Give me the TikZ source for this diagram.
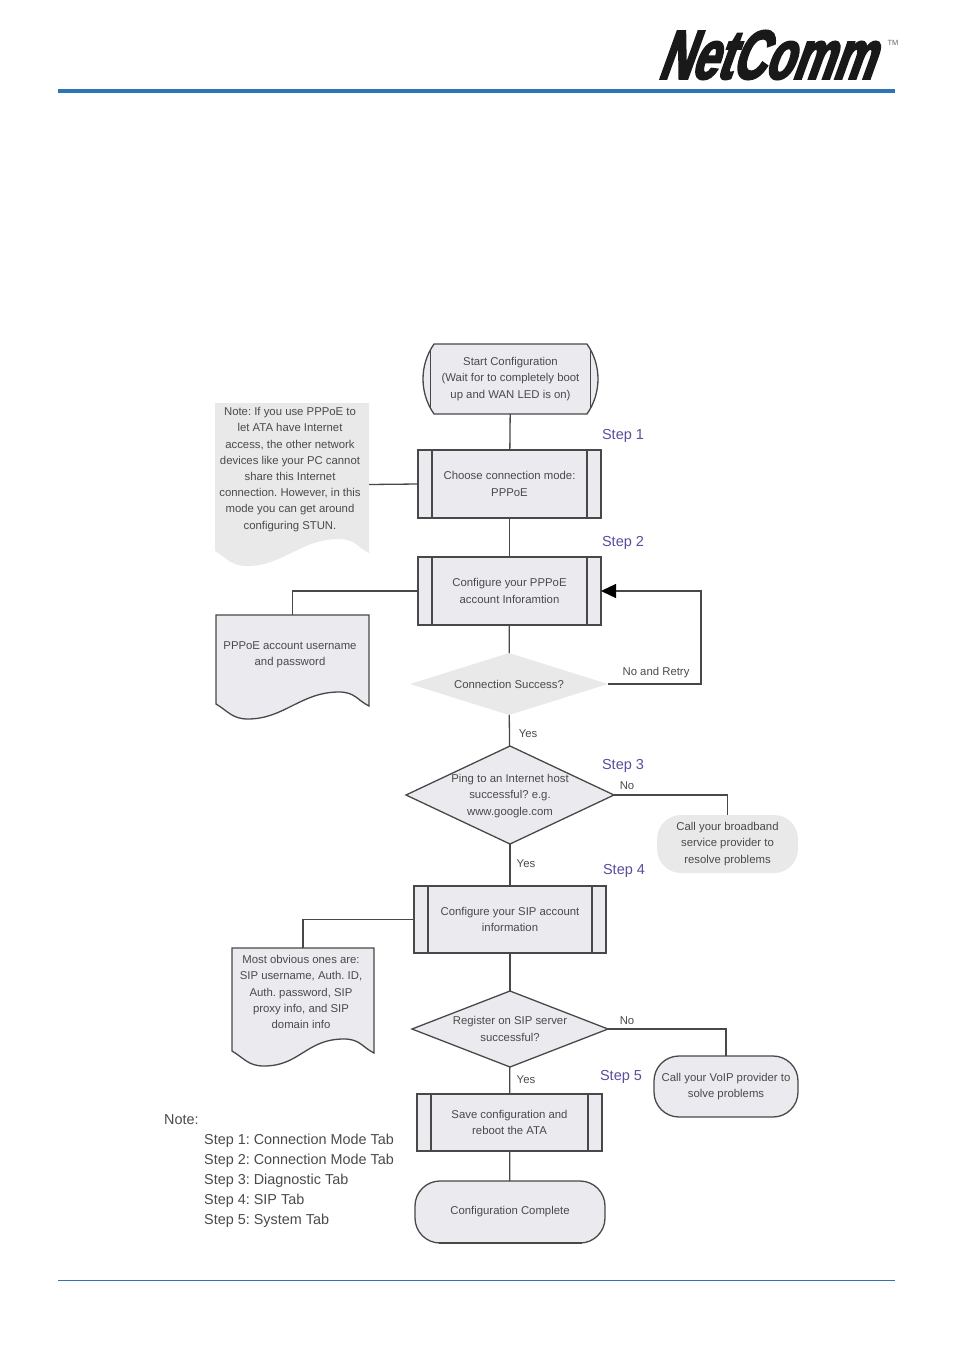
\documentclass[tikz,border=0pt]{standalone}
\usepackage{fontspec}
\setmainfont{Liberation Sans}
\newfontfamily\logofont[FakeSlant=0.36,FakeStretch=0.66,FakeBold=3.2]{Liberation Sans}
\usetikzlibrary{arrows.meta,shapes.misc,shapes.geometric,backgrounds}

\definecolor{ink}{HTML}{4A4A4A}
\definecolor{edge}{HTML}{484848}
\definecolor{boxfill}{HTML}{EBEAEF}
\definecolor{palefill}{HTML}{E9E9E9}
\definecolor{steppurple}{HTML}{5B4C9C}
\definecolor{ruleblue}{HTML}{2E75B6}

% document outline under a node: flat top, wavy bottom
\newcommand{\docwave}[2]{
  \begin{scope}[on background layer]
    \path[#2] (#1.north west) -- (#1.north east) -- ([yshift=13pt]#1.south east)
      .. controls +(-12,-6) and +(16,0) .. ([xshift=-30pt,yshift=27pt]#1.south east)
      .. controls +(-38,0) and +(36,0) .. ([xshift=32pt]#1.south west)
      .. controls +(-16,0) and +(12,7) .. ([yshift=15pt]#1.south west) -- cycle;
  \end{scope}
}

\begin{document}
\frenchspacing
\begin{tikzpicture}[
  x=1pt, y=-1pt,
  txt/.style      = {font=\fontsize{11.35}{16.2}\selectfont, text=ink, align=center, inner sep=0pt},
  bars/.style     = {path picture={
      \draw[edge,line width=1.3pt] ([xshift=#1]path picture bounding box.north west) -- ([xshift=#1]path picture bounding box.south west);
      \draw[edge,line width=1.3pt] ([xshift=-#1]path picture bounding box.north east) -- ([xshift=-#1]path picture bounding box.south east);}},
  process/.style  = {txt, draw=edge, line width=1.3pt, fill=boxfill, outer sep=0pt, bars=14pt},
  ending/.style   = {txt, draw=edge, line width=1.3pt, fill=boxfill, outer sep=0pt, rounded rectangle, rounded rectangle arc length=#1},
  capsule/.style  = {txt, draw=edge, line width=1.3pt, fill=boxfill, outer sep=0pt, rounded corners=#1},
  decision/.style = {diamond, draw=edge, line width=1.3pt, fill=boxfill, inner sep=0pt, outer sep=0pt},
  bare/.style     = {draw=none, fill=palefill},
  docline/.style  = {draw=edge, line width=1.3pt, fill=boxfill},
  docbox/.style   = {inner sep=0pt, outer sep=0pt},
  link/.style     = {edge, line width=1.3pt},
  retry/.style    = {link, -{Stealth[length=15pt,width=14pt,inset=0pt,color=black]}},
  stepmark/.style = {font=\fontsize{14.5}{16}\selectfont, text=steppurple, inner sep=0pt},
  lbl/.style      = {txt},
  tabs/.style     = {font=\fontsize{14.4}{20}\selectfont, text=ink, align=left, inner sep=0pt, anchor=north west},
]
  \useasboundingbox (0,0) rectangle (954,1351);

  % page furniture
  \coordinate (toprule a) at (58,91);
  \coordinate (toprule b) at (895,91);
  \coordinate (botrule a) at (58,1280);
  \coordinate (botrule b) at (895,1280);
  \draw[ruleblue,line width=3.6pt] (toprule a) -- (toprule b);
  \draw[ruleblue,line width=0.9pt] (botrule a) -- (botrule b);
  \node[font=\logofont\bfseries\fontsize{69}{69}\selectfont, text=black!90, inner sep=0pt] (logo) at (765,55) {NetComm};
  \node[font=\fontsize{7.5}{8}\selectfont, text=black!60, inner sep=0pt] (tm) at (893,43) {TM};

  \node[ending=70,bars=11pt,minimum width=175pt,minimum height=70pt] (start) at (510.5,379) {Start Configuration\\(Wait for to completely boot\\up and WAN LED is on)};
  \node[process,minimum width=183pt,minimum height=68pt] (choose) at (509.5,484) {Choose connection mode:\\PPPoE};
  \node[process,minimum width=183pt,minimum height=68pt] (pppoe) at (509.5,591) {Configure your PPPoE\\account Inforamtion};
  \node[decision,bare,minimum width=198pt,minimum height=62pt,label={[txt]center:Connection Success?}] (conn) at (509,684) {};
  \node[decision,minimum width=208pt,minimum height=98pt,label={[txt,yshift=-1pt]center:{Ping to an Internet host\\successful? e.g.\\www.google.com}}] (ping) at (510,795) {};
  \node[process,minimum width=192pt,minimum height=67pt] (sip) at (510,919.5) {Configure your SIP account\\information};
  \node[decision,minimum width=196pt,minimum height=76pt,label={[txt]center:{Register on SIP server\\successful?}}] (register) at (510,1029) {};
  \node[process,minimum width=185pt,minimum height=57pt] (save) at (509.5,1122.5) {Save configuration and\\reboot the ATA};
  \node[capsule=25pt,minimum width=190pt,minimum height=62pt] (complete) at (510,1212) {Configuration Complete};
  \draw[edge,line width=2.2pt] ([xshift=-71pt]complete.south) -- ([xshift=72pt]complete.south);

  \node[capsule=24pt,draw=none,fill=palefill,minimum width=141pt,minimum height=58pt] (broadband) at (727.5,844) {Call your broadband\\service provider to\\resolve problems};
  \node[capsule=25pt,minimum width=144pt,minimum height=61pt] (voip) at (726,1086.5) {Call your VoIP provider to\\solve problems};

  \node[docbox,minimum width=154pt,minimum height=163pt] (note) at (292,484.5) {};
  \docwave{note}{fill=palefill}
  \node[txt] (notetext) at (290,469.5) {Note: If you use PPPoE to\\let ATA have Internet\\access, the other network\\devices like your PC cannot\\share this Internet\\connection. However, in this\\mode you can get around\\configuring STUN.};
  \node[docbox,minimum width=153pt,minimum height=104pt] (pppoedoc) at (292.5,667) {};
  \docwave{pppoedoc}{docline}
  \node[txt] (pppoedoctext) at (290,654.5) {PPPoE account username\\and password};
  \node[docbox,minimum width=142pt,minimum height=118pt] (sipdoc) at (303,1007) {};
  \docwave{sipdoc}{docline}
  \node[txt] (sipdoctext) at (301,992) {Most obvious ones are:\\SIP username, Auth. ID,\\Auth. password, SIP\\proxy info, and SIP\\domain info};

  \draw[link] (start) -- (choose);
  \draw[link] (choose) -- (pppoe);
  \draw[link] (pppoe) -- (conn);
  \draw[link] (conn) -- (ping);
  \draw[link] (ping) -- (sip);
  \draw[link] (sip) -- (register);
  \draw[link] (register) -- (save);
  \draw[link] (save) -- (complete);
  \draw[link] (choose.west) -- (note.east);
  \draw[link] (pppoe.west) -| (pppoedoc.north);
  \draw[link] (sip.west) -| (sipdoc.north);
  \draw[retry] (conn.east) -- ++(93,0) |- (pppoe.east);
  \draw[link] (ping.east) -| (broadband.north);
  \draw[link] (register.east) -| (voip.north);

  \node[lbl] (yes a) at (528,733.5) {Yes};
  \node[lbl] (yes b) at (526,863.5) {Yes};
  \node[lbl] (yes c) at (526,1080) {Yes};
  \node[lbl] (retrylbl) at (656,672.5) {No and Retry};
  \node[lbl] (no a) at (627,785.5) {No};
  \node[lbl] (no b) at (627,1020.5) {No};

  \node[stepmark] (step a) at (623,436) {Step 1};
  \node[stepmark] (step b) at (623,542.5) {Step 2};
  \node[stepmark] (step c) at (623,765.5) {Step 3};
  \node[stepmark] (step d) at (624,870.5) {Step 4};
  \node[stepmark] (step e) at (621,1076.5) {Step 5};

  \node[tabs] (notehead) at (164,1114) {Note:};
  \node[tabs] (tablist) at (204,1134) {Step 1: Connection Mode Tab\\Step 2: Connection Mode Tab\\Step 3: Diagnostic Tab\\Step 4: SIP Tab\\Step 5: System Tab};
\end{tikzpicture}
\end{document}
